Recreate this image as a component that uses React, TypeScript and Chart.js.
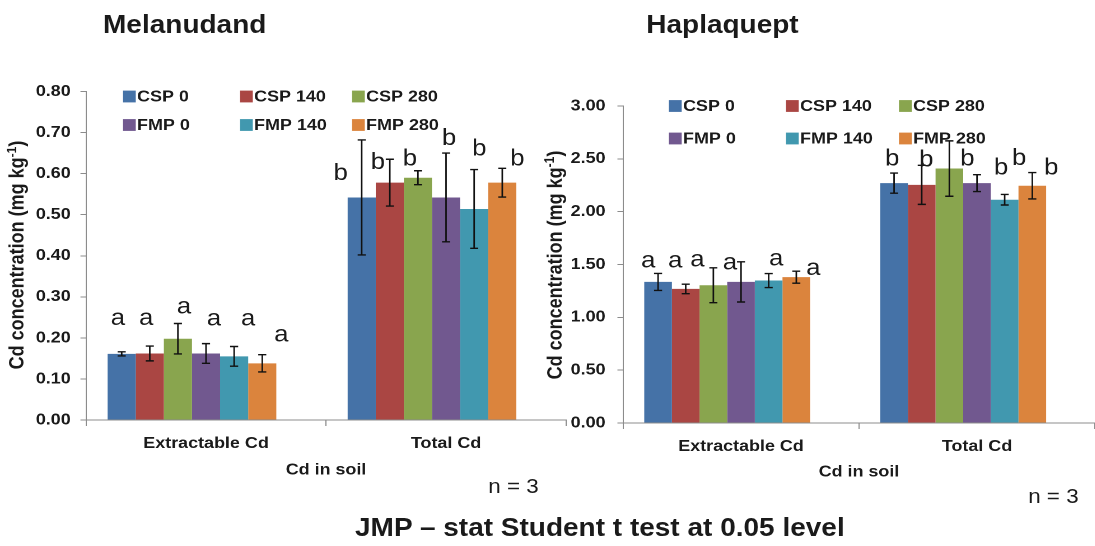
import React, { useEffect, useRef } from 'react';
import { Chart, registerables } from 'chart.js';

Chart.register(...registerables);

const FONT = '"Liberation Sans", Arial, Helvetica, sans-serif';
const STRETCH = 1.12;
const AXIS = '#8c8c8c';
const TEXT = '#1a1a1a';

// ---------- data ----------
const categories = ['Extractable Cd', 'Total Cd'];
const seriesNames = ['CSP 0', 'CSP 140', 'CSP 280', 'FMP 0', 'FMP 140', 'FMP 280'];
const seriesColors = ['#4572A7', '#AA4643', '#89A54E', '#71588F', '#4198AF', '#DB843D'];

// Melanudand
const melExtractable = [0.161, 0.162, 0.198, 0.162, 0.155, 0.138];
const melExtractableErr = [0.005, 0.018, 0.037, 0.024, 0.024, 0.021];
const melTotal = [0.542, 0.578, 0.590, 0.542, 0.514, 0.578];
const melTotalErr = [0.140, 0.057, 0.017, 0.108, 0.096, 0.035];
const melExtractableLetters = ['a', 'a', 'a', 'a', 'a', 'a'];
const melTotalLetters = ['b', 'b', 'b', 'b', 'b', 'b'];

// Haplaquept
const hapExtractable = [1.335, 1.269, 1.304, 1.335, 1.348, 1.380];
const hapExtractableErr = [0.080, 0.045, 0.165, 0.190, 0.066, 0.057];
const hapTotal = [2.270, 2.254, 2.408, 2.270, 2.113, 2.245];
const hapTotalErr = [0.095, 0.185, 0.262, 0.080, 0.050, 0.125];
const hapExtractableLetters = ['a', 'a', 'a', 'a', 'a', 'a'];
const hapTotalLetters = ['b', 'b', 'b', 'b', 'b', 'b'];

const melYMax = 0.8;
const melYStep = 0.1;
const hapYMax = 3.0;
const hapYStep = 0.5;

const xTitle = 'Cd in soil';
const yTitleMain = 'Cd concentration (mg kg';
const yTitleSup = '-1';
const yTitleEnd = ')';

// ---------- layout (annotation placement, not data) ----------
const melPanel = {
  values: [melExtractable, melTotal],
  errors: [melExtractableErr, melTotalErr],
  letters: [melExtractableLetters, melTotalLetters],
  letterY: [
    [0.247, 0.247, 0.275, 0.245, 0.245, 0.206],
    [0.605, 0.632, 0.640, 0.690, 0.664, 0.640],
  ],
  letterDx: [
    [-3.4, -3.2, 5.4, 7.1, 12.5, 17],
    [-18.8, -10.7, -7.1, 2.7, 4.5, 13.4],
  ],
  yMax: melYMax,
  yStep: melYStep,
  canvas: { left: 0, top: 60, width: 510, height: 430 },
  area: { left: 76.8, top: 31.5, right: 505.4, bottom: 360 },
  yTickPad: 8.7,
  legendCols: [33, 137.5, 237.5],
  legendRows: [36.5, 65],
  yTitle: { x: 16, y: 195 },
  xTitleY: 410,
};

const hapPanel = {
  values: [hapExtractable, hapTotal],
  errors: [hapExtractableErr, hapTotalErr],
  letters: [hapExtractableLetters, hapTotalLetters],
  letterY: [
    [1.53, 1.53, 1.54, 1.51, 1.55, 1.46],
    [2.515, 2.506, 2.515, 2.43, 2.52, 2.43],
  ],
  letterDx: [
    [-8.8, -9.4, -14.3, -9.8, 6.7, 15.2],
    [-1.6, 4, 16.1, 21.4, 12.9, 17],
  ],
  yMax: hapYMax,
  yStep: hapYStep,
  canvas: { left: 480, top: 60, width: 498, height: 460 },
  area: { left: 76.25, top: 46, right: 497.7, bottom: 363 },
  yTickPad: 10.6,
  legendCols: [41, 145.5, 246.4],
  legendRows: [46, 78.5],
  yTitle: { x: 16.4, y: 205 },
  xTitleY: 412,
};

type Panel = typeof melPanel;

function makeOverlay(p: Panel) {
  return {
    id: 'overlay',
    afterDatasetsDraw(chart: any) {
      const ctx = chart.ctx as CanvasRenderingContext2D;
      const yScale = chart.scales.y;
      const area = chart.chartArea;
      ctx.save();
      // error bars and significance letters
      for (let s = 0; s < seriesNames.length; s++) {
        const meta = chart.getDatasetMeta(s);
        for (let c = 0; c < categories.length; c++) {
          const bar = meta.data[c];
          if (!bar) continue;
          const v = p.values[c][s];
          const e = p.errors[c][s];
          const yt = yScale.getPixelForValue(v + e);
          const yb = yScale.getPixelForValue(v - e);
          ctx.strokeStyle = '#111';
          ctx.lineWidth = 1.4;
          ctx.beginPath();
          ctx.moveTo(bar.x, yt);
          ctx.lineTo(bar.x, yb);
          ctx.moveTo(bar.x - 3.6, yt);
          ctx.lineTo(bar.x + 3.6, yt);
          ctx.moveTo(bar.x - 3.6, yb);
          ctx.lineTo(bar.x + 3.6, yb);
          ctx.stroke();

          const letter = p.letters[c][s];
          const size = 23;
          ctx.font = `${size}px ${FONT}`;
          ctx.fillStyle = TEXT;
          ctx.textAlign = 'center';
          ctx.textBaseline = 'alphabetic';
          const yc = yScale.getPixelForValue(p.letterY[c][s]);
          const base = yc + (letter === 'a' ? 0.27 : 0.36) * size;
          ctx.fillText(letter, bar.x + p.letterDx[c][s], base);
        }
      }
      ctx.restore();
    },
    afterDraw(chart: any) {
      const ctx = chart.ctx as CanvasRenderingContext2D;
      const area = chart.chartArea;
      ctx.save();
      // legend
      ctx.font = `bold 16px ${FONT}`;
      ctx.textAlign = 'left';
      ctx.textBaseline = 'middle';
      for (let i = 0; i < seriesNames.length; i++) {
        const col = i % 3;
        const row = Math.floor(i / 3);
        const x = area.left + p.legendCols[col];
        const yc = p.legendRows[row];
        ctx.fillStyle = seriesColors[i];
        ctx.fillRect(x, yc - 5.9, 11.4, 11.8);
        ctx.fillStyle = TEXT;
        ctx.fillText(seriesNames[i], x + 12.6, yc + 0.5);
      }
      // x title
      ctx.font = `bold 16px ${FONT}`;
      ctx.textAlign = 'center';
      ctx.textBaseline = 'middle';
      ctx.fillStyle = TEXT;
      ctx.fillText(xTitle, (area.left + area.right) / 2, p.xTitleY);
      // y title (rotated, with superscript)
      ctx.translate(p.yTitle.x, p.yTitle.y);
      ctx.rotate(-Math.PI / 2);
      ctx.textAlign = 'left';
      ctx.textBaseline = 'middle';
      ctx.font = `bold 18px ${FONT}`;
      const w1 = ctx.measureText(yTitleMain).width;
      const w3 = ctx.measureText(yTitleEnd).width;
      ctx.font = `bold 12px ${FONT}`;
      const w2 = ctx.measureText(yTitleSup).width;
      let x0 = -(w1 + w2 + w3) / 2;
      ctx.font = `bold 18px ${FONT}`;
      ctx.fillText(yTitleMain, x0, 0);
      x0 += w1;
      ctx.font = `bold 12px ${FONT}`;
      ctx.fillText(yTitleSup, x0, -5);
      x0 += w2;
      ctx.font = `bold 18px ${FONT}`;
      ctx.fillText(yTitleEnd, x0, 0);
      ctx.restore();
    },
  };
}

function PanelChart({ panel }: { panel: Panel }) {
  const ref = useRef<HTMLCanvasElement | null>(null);
  useEffect(() => {
    const p = panel;
    const datasets: any[] = seriesNames.map((name, s) => ({
      label: name,
      data: categories.map((_, c) => p.values[c][s]),
      backgroundColor: seriesColors[s],
      borderWidth: 0,
      categoryPercentage: 0.82,
      barPercentage: 1,
    }));
    // empty trailing slot in each group (as in the original spreadsheet layout)
    datasets.push({
      label: '',
      data: categories.map(() => null),
      backgroundColor: 'rgba(0,0,0,0)',
      borderWidth: 0,
      categoryPercentage: 0.82,
      barPercentage: 1,
    });
    const chart = new Chart(ref.current as HTMLCanvasElement, {
      type: 'bar',
      data: { labels: categories, datasets },
      options: {
        animation: false,
        responsive: false,
        devicePixelRatio: 2,
        events: [],
        layout: {
          padding: {
            left: 0,
            top: p.area.top,
            right: p.canvas.width - p.area.right,
            bottom: 0,
          },
        },
        plugins: {
          legend: { display: false },
          tooltip: { enabled: false },
          title: { display: false },
        },
        scales: {
          x: {
            offset: true,
            grid: {
              offset: true,
              drawOnChartArea: false,
              drawTicks: true,
              tickLength: 6,
              color: AXIS,
              lineWidth: 1,
            },
            border: { display: true, color: AXIS, width: 1 },
            ticks: {
              font: { family: FONT, size: 16, weight: 'bold' },
              color: TEXT,
              padding: 8,
              maxRotation: 0,
              autoSkip: false,
            },
            afterFit: (s: any) => {
              s.height = p.canvas.height - p.area.bottom;
            },
          },
          y: {
            min: 0,
            max: p.yMax,
            ticks: {
              stepSize: p.yStep,
              callback: (v: any) => Number(v).toFixed(2),
              font: { family: FONT, size: 16, weight: 'bold' },
              color: TEXT,
              padding: p.yTickPad,
            },
            grid: {
              drawOnChartArea: false,
              drawTicks: true,
              tickLength: 5,
              color: AXIS,
              lineWidth: 1,
            },
            border: { display: true, color: AXIS, width: 1 },
            afterFit: (s: any) => {
              s.width = p.area.left;
            },
          },
        },
      } as any,
      plugins: [makeOverlay(p) as any],
    });
    return () => chart.destroy();
  }, [panel]);
  const c = panel.canvas;
  return (
    <div style={{ position: 'absolute', left: c.left, top: c.top, width: c.width, height: c.height }}>
      <canvas ref={ref} width={c.width} height={c.height} style={{ width: c.width, height: c.height }} />
    </div>
  );
}

const textBase: React.CSSProperties = {
  position: 'absolute',
  whiteSpace: 'nowrap',
  color: TEXT,
  fontFamily: FONT,
  lineHeight: 1,
};

export default function App() {
  useEffect(() => {
    document.body.style.margin = '0';
    document.body.style.overflow = 'hidden';
    document.documentElement.style.overflow = 'hidden';
  }, []);
  return (
    <div style={{ width: 1095, height: 546, overflow: 'hidden', position: 'relative', background: '#fff' }}>
      <div
        style={{
          position: 'absolute',
          left: 0,
          top: 0,
          width: 977,
          height: 546,
          transform: `scaleX(${STRETCH})`,
          transformOrigin: '0 0',
        }}
      >
        <PanelChart panel={melPanel} />
        <PanelChart panel={hapPanel} />
        <div style={{ ...textBase, left: 92, top: 12, fontSize: 25, fontWeight: 'bold' }}>Melanudand</div>
        <div style={{ ...textBase, left: 577, top: 12, fontSize: 25, fontWeight: 'bold' }}>Haplaquept</div>
        <div style={{ ...textBase, left: 436, top: 476, fontSize: 20 }}>n = 3</div>
        <div style={{ ...textBase, left: 918, top: 486, fontSize: 20 }}>n = 3</div>
        <div style={{ ...textBase, left: 317, top: 515, fontSize: 25, fontWeight: 'bold' }}>
          JMP – stat Student t test at 0.05 level
        </div>
      </div>
    </div>
  );
}
